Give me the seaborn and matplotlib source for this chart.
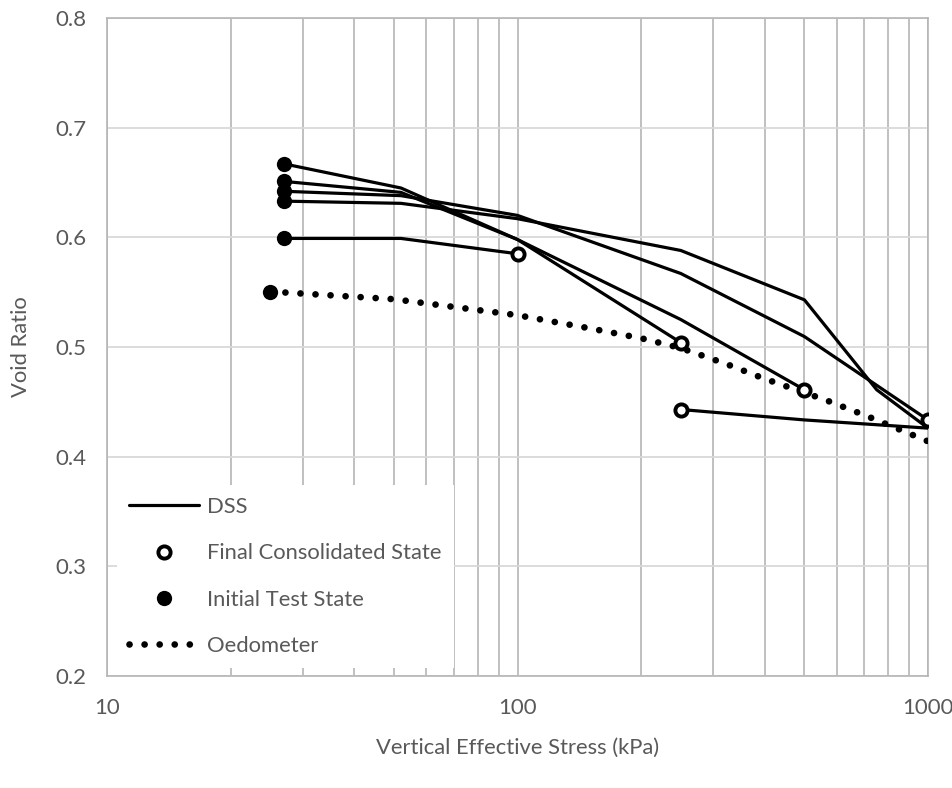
import numpy as np
import pandas as pd
import matplotlib
matplotlib.use("Agg")
import matplotlib.pyplot as plt
import seaborn as sns
from matplotlib.lines import Line2D
from matplotlib.ticker import FixedLocator, FixedFormatter, LogLocator, NullFormatter

sns.set_theme(style="white")
plt.rcParams['font.family'] = ['Lato', 'DejaVu Sans']

# DSS test paths (vertical effective stress kPa, void ratio)
t1_stress = [27, 52, 100, 250]
t1_void = [0.667, 0.645, 0.598, 0.504]
t2_stress = [27, 52, 100, 250, 500]
t2_void = [0.651, 0.641, 0.598, 0.525, 0.461]
t3_stress = [27, 52, 100, 250, 500, 1000]
t3_void = [0.642, 0.638, 0.620, 0.567, 0.5095, 0.4335]
t4_stress = [27, 52, 100, 250, 500, 750, 1000, 500, 250]
t4_void = [0.633, 0.631, 0.617, 0.588, 0.543, 0.461, 0.426, 0.4335, 0.443]
t5_stress = [27, 52, 100]
t5_void = [0.599, 0.599, 0.585]

# oedometer curve
oedo_stress = [25, 50, 100, 150, 200, 250, 320, 400, 560, 710, 1000]
oedo_void = [0.5505, 0.5436, 0.529, 0.517, 0.508, 0.499, 0.485, 0.471, 0.452, 0.437, 0.414]

# end points of the DSS consolidation
final_stress = [100, 250, 500, 1000, 250]
final_void = [0.585, 0.504, 0.461, 0.4335, 0.443]
initial_stress = [27, 27, 27, 27, 27, 25]
initial_void = [0.667, 0.651, 0.642, 0.633, 0.599, 0.5505]

yticks = [0.2, 0.3, 0.4, 0.5, 0.6, 0.7, 0.8]
xticks = [10, 100, 1000]
xticklabels = ["10", "100", "1000"]

tests = [(t1_stress, t1_void), (t2_stress, t2_void), (t3_stress, t3_void),
         (t4_stress, t4_void), (t5_stress, t5_void)]
frames = []
for i, (s, e) in enumerate(tests):
    frames.append(pd.DataFrame({"stress": s, "void": e, "test": i, "step": np.arange(len(s))}))
dss = pd.concat(frames, ignore_index=True)
oedo = pd.DataFrame({"stress": oedo_stress, "void": oedo_void})
final = pd.DataFrame({"stress": final_stress, "void": final_void})
initial = pd.DataFrame({"stress": initial_stress, "void": initial_void})

txt = "#595959"
gridc = "#b5b5b5"

fig = plt.figure(figsize=(9.53, 7.88), dpi=100)
ax = fig.add_axes([107 / 953, 1 - 676 / 788, (928 - 107) / 953, (676 - 18) / 788])

# Oedometer dotted line
sns.lineplot(data=oedo, x="stress", y="void", estimator=None, sort=False, color="black",
             lw=4.8, linestyle=(0, (0.01, 2.25)), dash_capstyle="round", ax=ax, zorder=3)

# DSS paths
sns.lineplot(data=dss, x="stress", y="void", units="test", estimator=None, sort=False,
             color="black", lw=2.3, ax=ax, legend=False, zorder=4)

# markers
sns.scatterplot(data=initial, x="stress", y="void", marker="o", s=121, color="black",
                linewidth=0, ax=ax, zorder=5)
sns.scatterplot(data=final, x="stress", y="void", marker="o", s=77, facecolor="white",
                edgecolor="black", linewidth=2.8, ax=ax, zorder=6)

ax.set_xscale("log")
ax.set_xlim(10, 1000)
ax.set_ylim(0.2, 0.8)
ax.xaxis.set_major_locator(FixedLocator(xticks))
ax.xaxis.set_major_formatter(FixedFormatter(xticklabels))
ax.xaxis.set_minor_locator(LogLocator(base=10, subs=np.arange(2, 10)))
ax.xaxis.set_minor_formatter(NullFormatter())
ax.set_yticks(yticks)
ax.set_yticklabels([f"{v:.1f}" for v in yticks])

ax.set_axisbelow(True)
ax.grid(which="both", axis="x", color=gridc, lw=1.2)
ax.grid(which="major", axis="y", color="#d9d9d9", lw=1.3)
ax.tick_params(axis="both", which="both", length=0, labelsize=16, labelcolor=txt)
ax.tick_params(axis="y", pad=15)
ax.tick_params(axis="x", pad=16)
for sp in ax.spines.values():
    sp.set_visible(True)
    sp.set_color(gridc)
    sp.set_linewidth(1.2)

ax.set_xlabel("Vertical Effective Stress (kPa)", fontsize=15.8, color=txt)
ax.set_ylabel("Void Ratio", fontsize=15.8, color=txt)
ax.xaxis.set_label_coords(0.5, -0.094)
ax.yaxis.set_label_coords(-0.093, 0.5)

handles = [
    Line2D([], [], color="black", lw=2.3, label="DSS"),
    Line2D([], [], ls="none", marker="o", ms=8.8, mfc="white", mec="black", mew=2.8,
           label="Final Consolidated State"),
    Line2D([], [], ls="none", marker="o", ms=11, mfc="black", mec="black", mew=0,
           label="Initial Test State"),
    Line2D([], [], color="black", lw=4.8, ls=(0, (0.01, 2.25)), dash_capstyle="round",
           label="Oedometer"),
]
leg = ax.legend(handles=handles, loc="lower left", bbox_to_anchor=(0.0122, 0.012), borderaxespad=0,
                frameon=True, fancybox=False, framealpha=1, edgecolor="none", facecolor="white",
                fontsize=15.8, labelcolor=txt, handlelength=3.19, handletextpad=0.37,
                labelspacing=1.2, borderpad=0.55)
leg.set_zorder(10)

fig.savefig("out.png", dpi=100)
